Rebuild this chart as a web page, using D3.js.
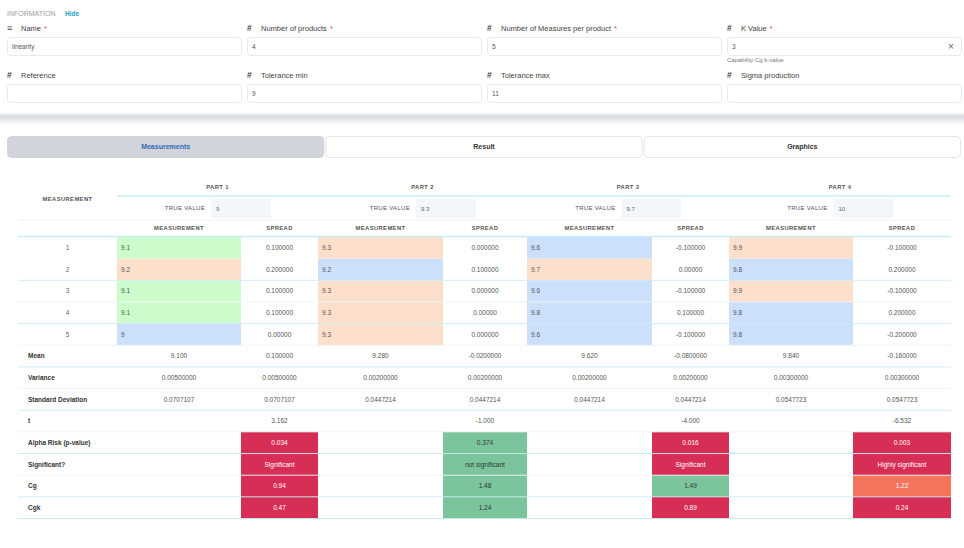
<!DOCTYPE html>
<html><head><meta charset="utf-8">
<script src="https://cdn.jsdelivr.net/npm/d3@7"></script>
<style>
html,body{margin:0;padding:0;background:#fff;}
svg{display:block;font-family:"Liberation Sans",Arial,sans-serif;}
</style></head>
<body><svg id="c" width="964" height="548"></svg>
<script>
// ---------- DATA ----------
const formFields = [
  {label:"Name", icon:"≡", required:true, value:"linearity"},
  {label:"Number of products", icon:"#", required:true, value:"4"},
  {label:"Number of Measures per product", icon:"#", required:true, value:"5"},
  {label:"K Value", icon:"#", required:true, value:"3", clear:true, hint:"Capability Cg k-value"},
  {label:"Reference", icon:"#", required:false, value:""},
  {label:"Tolerance min", icon:"#", required:false, value:"9"},
  {label:"Tolerance max", icon:"#", required:false, value:"11"},
  {label:"Sigma production", icon:"#", required:false, value:""}
];
const tabs = ["Measurements","Result","Graphics"];
const parts = ["PART 1","PART 2","PART 3","PART 4"];
const trueValues = ["9","9.3","9.7","10"];
const rowNumbers = ["1","2","3","4","5"];
const measurements = [
  [9.1, 9.2, 9.1, 9.1, 9],
  [9.3, 9.2, 9.3, 9.3, 9.3],
  [9.6, 9.7, 9.6, 9.8, 9.6],
  [9.9, 9.8, 9.9, 9.8, 9.8]
];
const measurementZones = [
  ["A","B","A","A","C"],
  ["B","C","B","B","B"],
  ["C","B","C","C","C"],
  ["B","C","B","C","C"]
];
const spreads = [
  ["0.100000","0.200000","0.100000","0.100000","0.00000"],
  ["0.000000","0.100000","0.000000","0.00000","0.000000"],
  ["-0.100000","0.00000","-0.100000","0.100000","-0.100000"],
  ["-0.100000","0.200000","-0.100000","0.200000","-0.200000"]
];
const statLabels = ["Mean","Variance","Standard Deviation","t","Alpha Risk (p-value)","Significant?","Cg","Cgk"];
const meanMeas = ["9.100","9.280","9.620","9.840"];
const meanSpread = ["0.100000","-0.0200000","-0.0800000","-0.160000"];
const varMeas = ["0.00500000","0.00200000","0.00200000","0.00300000"];
const varSpread = ["0.00500000","0.00200000","0.00200000","0.00300000"];
const sdMeas = ["0.0707107","0.0447214","0.0447214","0.0547723"];
const sdSpread = ["0.0707107","0.0447214","0.0447214","0.0547723"];
const tValues = ["3.162","-1.000","-4.000","-6.532"];
const alphaValues = ["0.034","0.374","0.016","0.003"];
const alphaStatus = ["bad","good","bad","bad"];
const significance = ["Significant","not significant","Significant","Highly significant"];
const significanceStatus = ["bad","good","bad","bad"];
const cgValues = ["0.94","1.48","1.49","1.22"];
const cgStatus = ["bad","good","good","warn"];
const cgkValues = ["0.47","1.24","0.89","0.24"];
const cgkStatus = ["bad","good","bad","bad"];

// ---------- LAYOUT / STYLE ----------
const svg = d3.select("#c");
const colEdges = [18,117,241,318,443,527,652,729,853,951];
const zoneColor = d3.scaleOrdinal().domain(["A","B","C"]).range(["#ccfccb","#fde0cc","#cce0fc"]);
const statusFill = d3.scaleOrdinal().domain(["bad","good","warn"]).range(["#d72e55","#7cc49c","#f4745c"]);
const statusText = d3.scaleOrdinal().domain(["bad","good","warn"]).range(["#ffffff","#2a3a32","#ffffff"]);
const strong = "#c8edf5", faint = "#eef4f6";

function txt(g, x, y, s, o={}) {
  return g.append("text").attr("x",x).attr("y",y).attr("dy","0.35em")
    .attr("font-size",o.size||7).attr("fill",o.fill||"#555")
    .attr("font-weight",o.weight||"normal").attr("text-anchor",o.anchor||"start")
    .attr("letter-spacing",o.ls||0).text(s);
}

// ---------- INFORMATION ----------
const info = svg.append("g");
txt(info,7,14,"INFORMATION",{size:7,fill:"#9a9ea4"});
txt(info,65,14,"Hide",{size:6.5,fill:"#1aa3c4",weight:"bold"});
const fieldX = d3.scaleBand().domain(d3.range(4)).range([7,967]).paddingInner(0);
const fieldRowY = d3.scaleOrdinal().domain([0,1]).range([28,75]);
formFields.forEach((f,i)=>{
  const c=i%4, r=Math.floor(i/4);
  const x=fieldX(c), y=fieldRowY(r);
  txt(info,x,y,f.icon,{size:f.icon==="#"?8.5:9,fill:"#444",weight:"bold"});
  const t=txt(info,x+14,y,f.label,{size:7.5,fill:"#444"});
  if(f.required){
    const w=t.node().getComputedTextLength();
    txt(info,x+14+w+3,y,"*",{size:7.5,fill:"#e0475a"});
  }
  info.append("rect").attr("x",x+0.5).attr("y",y+9.5).attr("width",fieldX.bandwidth()-6).attr("height",18)
    .attr("rx",3).attr("fill","#fff").attr("stroke","#e6eaf1");
  txt(info,x+5,y+18.5,f.value,{size:6.5,fill:"#555"});
  if(f.clear) txt(info,x+fieldX.bandwidth()-16,y+18.5,"×",{size:10,fill:"#666",anchor:"middle"});
  if(f.hint) txt(info,x,y+32,f.hint,{size:6,fill:"#777"});
});
// card shadow
const defs=svg.append("defs");
const gr=defs.append("linearGradient").attr("id","sh").attr("x1",0).attr("x2",0).attr("y1",0).attr("y2",1);
gr.append("stop").attr("offset","0").attr("stop-color","#ffffff");
gr.append("stop").attr("offset","0.35").attr("stop-color","#d7dbe1");
gr.append("stop").attr("offset","0.55").attr("stop-color","#e4e7ec");
gr.append("stop").attr("offset","1").attr("stop-color","#ffffff");
svg.append("rect").attr("x",0).attr("y",112).attr("width",964).attr("height",13).attr("fill","url(#sh)");

// ---------- TABS ----------
const tabX = d3.scaleBand().domain(tabs).range([7,961]).paddingInner(0.00315);
tabs.forEach((t,i)=>{
  svg.append("rect").attr("x",tabX(t)+0.5).attr("y",136.5).attr("width",tabX.bandwidth()-1).attr("height",21)
    .attr("rx",4).attr("fill",i===0?"#d1d5db":"#fff").attr("stroke",i===0?"#d1d5db":"#e2e5ea");
  txt(svg,tabX(t)+tabX.bandwidth()/2,147,t,{size:7,weight:"bold",anchor:"middle",fill:i===0?"#2f6cb3":"#333"});
});

// ---------- TABLE ----------
const tbl = svg.append("g");
const allRows = rowNumbers.concat(statLabels);
const rowY = d3.scaleBand().domain(allRows).range([237,518.5]);
const bh = rowY.bandwidth();
const measCol = p => [colEdges[1+2*p], colEdges[2+2*p]];
const sprCol = p => [colEdges[2+2*p], colEdges[3+2*p]];
const mid = a => (a[0]+a[1])/2;
const hdr = {size:5.8,weight:"bold",fill:"#555",anchor:"middle",ls:0.4};

txt(tbl,(colEdges[0]+colEdges[1])/2,199,"MEASUREMENT",hdr);
parts.forEach((p,i)=>{
  const c=(measCol(i)[0]+sprCol(i)[1])/2;
  txt(tbl,c,187,p,hdr);
  const bx=c-6.5;
  tbl.append("rect").attr("x",bx).attr("y",199).attr("width",60).attr("height",19).attr("fill","#f4f7fa");
  txt(tbl,bx+5,208.5,trueValues[i],{size:6,fill:"#666"});
  txt(tbl,bx-6,208,"TRUE VALUE",{...hdr,anchor:"end",size:6,weight:"normal",fill:"#555",ls:0.3});
  txt(tbl,mid(measCol(i)),228,"MEASUREMENT",hdr);
  txt(tbl,mid(sprCol(i)),228,"SPREAD",hdr);
});
tbl.append("line").attr("x1",colEdges[1]).attr("x2",colEdges[9]).attr("y1",196).attr("y2",196).attr("stroke",strong).attr("stroke-width",1.5);
tbl.append("line").attr("x1",colEdges[0]).attr("x2",colEdges[9]).attr("y1",220).attr("y2",220).attr("stroke",faint).attr("stroke-width",1);

// measurement rows
rowNumbers.forEach((r,j)=>{
  const y=rowY(r);
  txt(tbl,(colEdges[0]+colEdges[1])/2,y+bh/2,r,{size:6.5,fill:"#666",anchor:"middle"});
  parts.forEach((p,i)=>{
    const m=measCol(i), s=sprCol(i);
    tbl.append("rect").attr("x",m[0]).attr("y",y).attr("width",m[1]-m[0]).attr("height",bh)
      .attr("fill",zoneColor(measurementZones[i][j]));
    txt(tbl,m[0]+4,y+bh/2,String(measurements[i][j]),{size:6.5,fill:"#555"});
    txt(tbl,mid(s),y+bh/2,spreads[i][j],{size:6.5,fill:"#555",anchor:"middle"});
  });
});

// stats rows
const statData = {
  "Mean":[meanMeas,meanSpread],
  "Variance":[varMeas,varSpread],
  "Standard Deviation":[sdMeas,sdSpread],
  "t":[null,tValues],
  "Alpha Risk (p-value)":[null,alphaValues,alphaStatus],
  "Significant?":[null,significance,significanceStatus],
  "Cg":[null,cgValues,cgStatus],
  "Cgk":[null,cgkValues,cgkStatus]
};
statLabels.forEach(lab=>{
  const y=rowY(lab);
  txt(tbl,28,y+bh/2,lab,{size:6.5,weight:"bold",fill:"#333"});
  const [mv,sv,st]=statData[lab];
  parts.forEach((p,i)=>{
    const m=measCol(i), s=sprCol(i);
    if(mv) txt(tbl,mid(m),y+bh/2,mv[i],{size:6.5,fill:"#555",anchor:"middle"});
    if(st){
      tbl.append("rect").attr("x",s[0]).attr("y",y).attr("width",s[1]-s[0]).attr("height",bh)
        .attr("fill",statusFill(st[i]));
      txt(tbl,mid(s),y+bh/2,sv[i],{size:6.5,fill:statusText(st[i]),anchor:"middle"});
    } else {
      txt(tbl,mid(s),y+bh/2,sv[i],{size:6.5,fill:"#555",anchor:"middle"});
    }
  });
});

// row borders
tbl.append("line").attr("x1",colEdges[0]).attr("x2",colEdges[9]).attr("y1",236.5).attr("y2",236.5).attr("stroke",strong).attr("stroke-width",1.5);
allRows.forEach((r,k)=>{
  if(k===0) return;
  const y=rowY(r)+bh;
  const col = (k%2===1 || k===allRows.length-1) ? strong : faint;
  tbl.append("line").attr("x1",colEdges[0]).attr("x2",colEdges[9]).attr("y1",y).attr("y2",y)
    .attr("stroke",col).attr("stroke-width",1).attr("opacity",0.9);
});
</script></body></html>
